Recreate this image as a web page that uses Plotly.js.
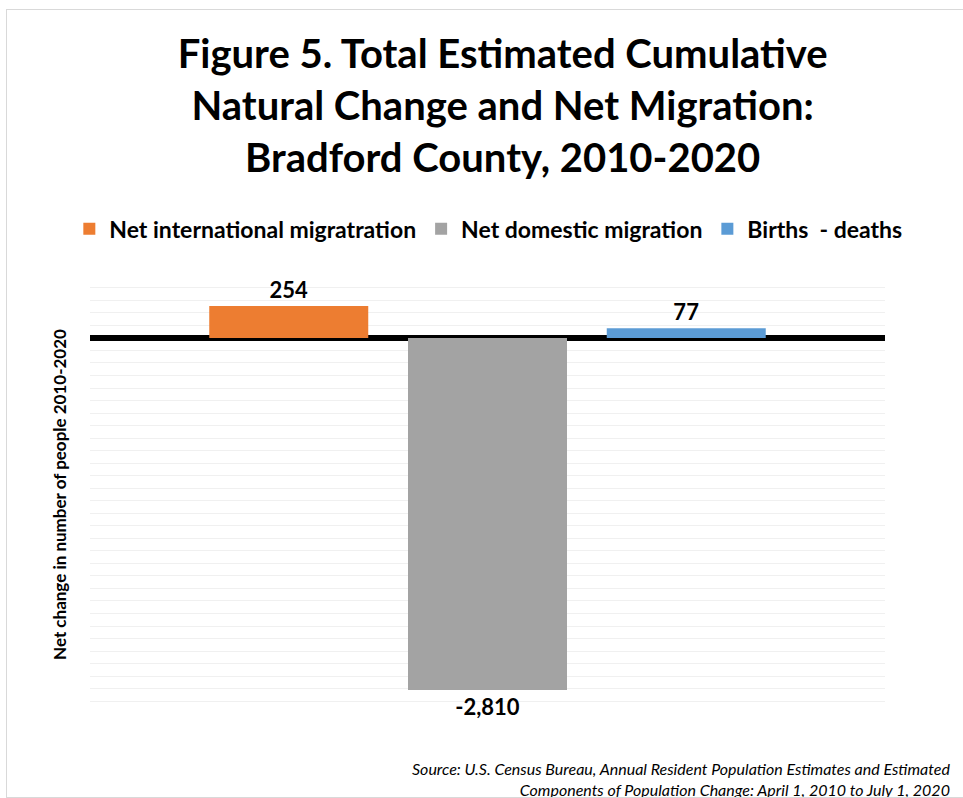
<!DOCTYPE html>
<html>
<head>
<meta charset="utf-8">
<script src="https://cdn.plot.ly/plotly-3.0.1.min.js"></script>
<style>
  html, body { margin: 0; padding: 0; background: #ffffff; }
  #wrap { position: relative; width: 963px; height: 798px; overflow: hidden; }
  #chart { position: absolute; left: 0; top: 0; width: 963px; height: 798px; }
  #frame { position: absolute; left: 6px; top: 9px; width: 980px; height: 787px; border: 1px solid #d9d9d9; pointer-events: none; }
</style>
</head>
<body>
<div id="wrap">
  <div id="chart"></div>
  <div id="frame"></div>
</div>
<script>
// ---- data ----
const category = [''];
const seriesNames = ['Net international migratration', 'Net domestic migration', 'Births  - deaths'];
const netInternational = [254];
const netDomestic = [-2810];
const birthsMinusDeaths = [77];
const seriesColors = ['#ED7D31', '#A3A3A3', '#5B9BD5'];

const titleText = 'Figure 5. Total Estimated Cumulative<br>Natural Change and Net Migration:<br>Bradford County, 2010-2020';
const yTitle = 'Net change in number of people 2010-2020';
const sourceText = 'Source: U.S. Census Bureau, Annual Resident Population Estimates and Estimated<br>Components of Population Change: April 1, 2010 to July 1, 2020';

const FONT = 'Lato, "Noto Sans", sans-serif';
const seriesValues = [netInternational, netDomestic, birthsMinusDeaths];

const traces = seriesValues.map((vals, i) => ({
  type: 'bar',
  name: seriesNames[i],
  x: category,
  y: vals,
  marker: { color: seriesColors[i], line: { width: 0 } },
  texttemplate: '%{y:,}',
  textposition: 'outside',
  textfont: { family: FONT, size: 22, color: '#000000', weight: 'bold' },
  cliponaxis: false,
  hoverinfo: 'skip'
}));

const layout = {
  width: 963,
  height: 798,
  paper_bgcolor: '#ffffff',
  plot_bgcolor: '#ffffff',
  font: { family: FONT, color: '#000000' },
  margin: { l: 90, r: 78, t: 275, b: 84 },
  barmode: 'group',
  bargap: 0.25,
  bargroupgap: 0.2,
  title: {
    text: titleText,
    font: { family: FONT, size: 40, color: '#000000', weight: 'bold' },
    xref: 'container', x: 0.522, xanchor: 'center',
    yref: 'container', y: 0.915, yanchor: 'top'
  },
  showlegend: true,
  legend: {
    orientation: 'h',
    xref: 'paper',
    x: -0.026, xanchor: 'left',
    yref: 'paper',
    y: 1.105, yanchor: 'middle',
    font: { family: FONT, size: 23, color: '#000000', weight: 'bold' },
    itemwidth: 30,
    traceorder: 'normal'
  },
  xaxis: {
    showticklabels: false,
    showgrid: false,
    zeroline: false,
    showline: false,
    ticks: ''
  },
  yaxis: {
    range: [-3002, 502],
    dtick: 100,
    showticklabels: false,
    ticks: '',
    showgrid: true,
    gridcolor: '#f0f0f0',
    gridwidth: 1,
    zeroline: true,
    zerolinecolor: '#000000',
    zerolinewidth: 6,
    showline: false,
    automargin: true,
    title: { text: yTitle, standoff: 18, font: { family: FONT, size: 17, color: '#000000', weight: 'bold' } }
  },
  annotations: [{
    xref: 'paper', yref: 'paper',
    x: 1.084, xanchor: 'right',
    y: -0.097, yanchor: 'top',
    align: 'right',
    showarrow: false,
    text: '<i>' + sourceText + '</i>',
    font: { family: FONT, size: 16, color: '#000000' }
  }]
};

Plotly.newPlot('chart', traces, layout, { displayModeBar: false, staticPlot: true });
</script>
</body>
</html>
